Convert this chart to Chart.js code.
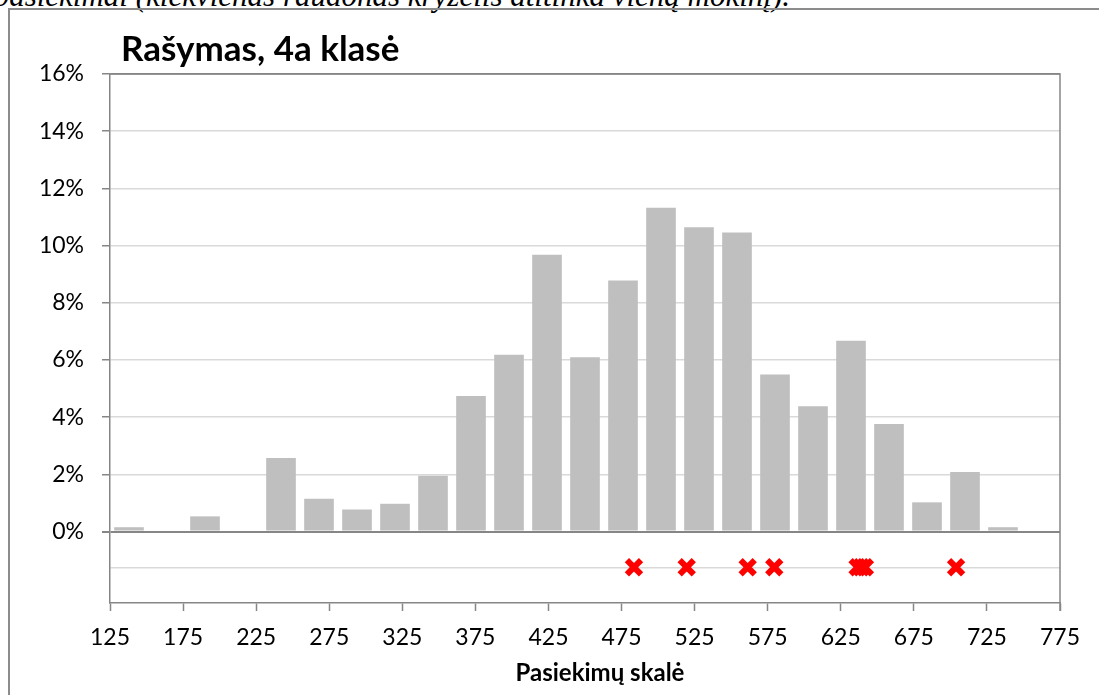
<!DOCTYPE html>
<html>
<head>
<meta charset="utf-8">
<script src="https://cdn.jsdelivr.net/npm/chart.js@4.4.0/dist/chart.umd.min.js"></script>
<style>
  html, body { margin:0; padding:0; background:#fff; width:1099px; height:695px; overflow:hidden; position:relative; }
  #frame { position:absolute; left:8px; top:8px; width:1200px; height:800px; border-left:2px solid #8c8c8c; border-top:2px solid #8c8c8c; box-sizing:border-box; }
  #wrap { position:absolute; left:0; top:0; width:1099px; height:695px; }
  #note { position:absolute; right:309px; top:-20px; font-family:"Liberation Serif", serif; font-style:italic; font-size:31px; line-height:31px; white-space:nowrap; color:#000; }
  #title { position:absolute; left:121px; top:30px; font-family:Lato, sans-serif; font-weight:bold; font-size:35px; line-height:35px; white-space:nowrap; color:#000; }
  #xtitle { position:absolute; left:450px; width:300px; top:660px; text-align:center; font-family:Lato, sans-serif; font-weight:bold; font-size:24px; line-height:24px; white-space:nowrap; color:#000; }
</style>
</head>
<body>
<div id="note">pasiekimai (kiekvienas raudonas kryželis atitinka vieną mokinį).</div>
<div id="frame"></div>
<div id="wrap"><canvas id="c" width="1099" height="695"></canvas></div>
<div id="title">Rašymas, 4a klasė</div>
<div id="xtitle">Pasiekimų skalė</div>
<script>
// Score bins (25 points wide) shown as bars
const binLabels = ['125–150','150–175','175–200','200–225','225–250','250–275','275–300','300–325','325–350','350–375','375–400','400–425','425–450','450–475','475–500','500–525','525–550','550–575','575–600','600–625','625–650','650–675','675–700','700–725','725–750'];
// Share of students in each bin, %
const binShares = [0.15, 0, 0.53, 0, 2.57, 1.15, 0.77, 0.97, 1.95, 4.74, 6.18, 9.68, 6.09, 8.78, 11.32, 10.64, 10.46, 5.49, 4.38, 6.67, 3.76, 1.02, 2.08, 0.15, 0];
// Individual students of the school (red crosses), scale score
const studentScores = [483.5, 519.6, 561.3, 579.5, 636.5, 639, 641.5, 703.9];
const studentLevel = [-1.25, -1.25, -1.25, -1.25, -1.25, -1.25, -1.25, -1.25];
// Axis ticks
const xTickValues = [125, 175, 225, 275, 325, 375, 425, 475, 525, 575, 625, 675, 725, 775];
const yTickValues = [0, 2, 4, 6, 8, 10, 12, 14, 16];
const markerGridValue = -1.25;

Chart.defaults.font.family = 'Lato, sans-serif';
Chart.defaults.color = '#000';

const frameLines = {
  id: 'frameLines',
  beforeDatasetsDraw(chart) {
    const a = chart.chartArea, ctx = chart.ctx;
    ctx.save();
    ctx.strokeStyle = '#868686';
    ctx.lineWidth = 1.5;
    ctx.beginPath();
    ctx.moveTo(a.left, a.top);
    ctx.lineTo(a.right, a.top);
    ctx.lineTo(a.right, a.bottom + 8);
    ctx.stroke();
    ctx.restore();
  }
};

new Chart(document.getElementById('c'), {
  type: 'bar',
  data: {
    labels: binLabels,
    datasets: [
      {
        type: 'scatter',
        label: 'Mokiniai',
        data: studentScores.map((v, i) => ({ x: v, y: studentLevel[i] })),
        xAxisID: 'x',
        yAxisID: 'y',
        pointStyle: 'crossRot',
        pointRadius: 10,
        pointHoverRadius: 10,
        pointBorderWidth: 6,
        borderColor: '#ff0000',
        backgroundColor: '#ff0000',
        showLine: false,
        order: 1
      },
      {
        type: 'bar',
        label: 'Šalies mokiniai',
        data: binShares,
        xAxisID: 'xc',
        yAxisID: 'y',
        backgroundColor: '#bfbfbf',
        borderWidth: 0,
        grouped: false,
        barPercentage: 0.78,
        categoryPercentage: 1,
        order: 2
      }
    ]
  },
  options: {
    responsive: false,
    animation: false,
    layout: { padding: { top: 74, right: 39, left: 0, bottom: 0 } },
    plugins: { legend: { display: false }, tooltip: { enabled: false }, title: { display: false } },
    scales: {
      xc: {
        type: 'category',
        labels: binLabels,
        display: false,
        offset: true,
        grid: { display: false }
      },
      x: {
        type: 'linear',
        position: 'bottom',
        min: 125,
        max: 775,
        offset: false,
        afterBuildTicks: s => { s.ticks = xTickValues.map(v => ({ value: v })); },
        afterFit: s => { s.height = 92; },
        ticks: { font: { size: 23 }, color: '#000', padding: 13, maxRotation: 0, autoSkip: false },
        grid: { offset: false, drawOnChartArea: false, drawTicks: true, tickLength: 8, tickColor: '#868686', tickWidth: 1.5 },
        border: { color: '#868686', width: 1.5 }
      },
      y: {
        min: -2.5,
        max: 16,
        afterBuildTicks: s => { s.ticks = [markerGridValue, ...yTickValues].map(v => ({ value: v })); },
        afterFit: s => { s.width = 110; },
        ticks: {
          font: { size: 23 }, color: '#000', padding: 18, autoSkip: false,
          callback: v => v >= 0 ? v + '%' : ''
        },
        grid: {
          color: c => (c.tick && (c.tick.value === 0 || c.tick.value === 16)) ? '#868686' : '#d9d9d9',
          lineWidth: c => (c.tick && c.tick.value === 0) ? 2 : 1.5,
          tickColor: c => (c.tick && c.tick.value < 0) ? 'rgba(0,0,0,0)' : '#868686',
          tickLength: 8
        },
        border: { color: '#868686', width: 1.5 }
      }
    }
  },
  plugins: [frameLines]
});
</script>
</body>
</html>
